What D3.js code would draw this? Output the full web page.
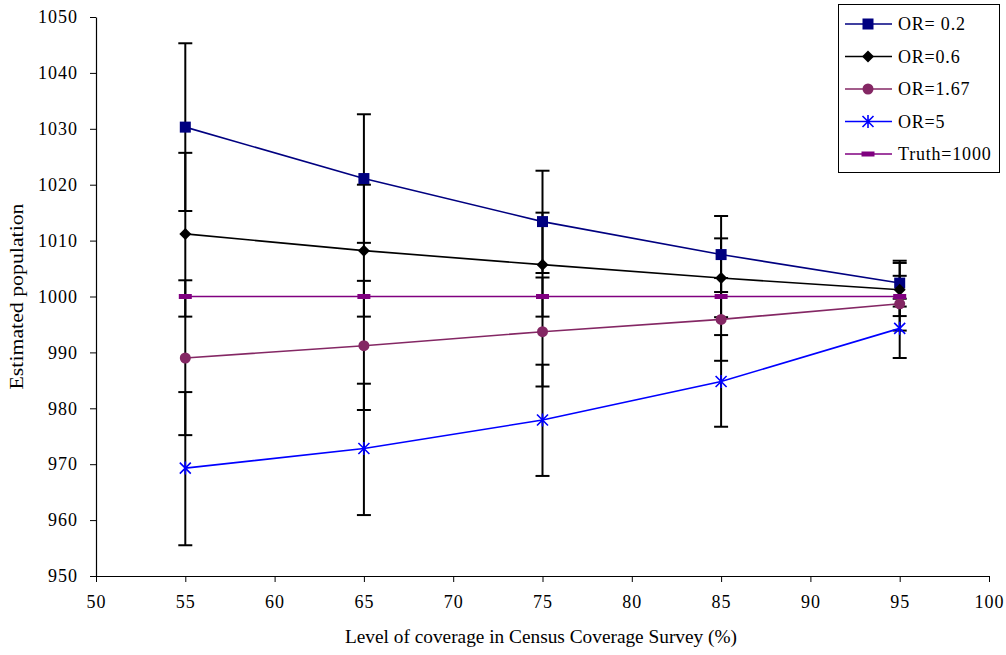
<!DOCTYPE html>
<html>
<head>
<meta charset="utf-8">
<script src="https://cdn.jsdelivr.net/npm/d3@7"></script>
<style>
  html, body { margin: 0; padding: 0; background: #fff; }
  svg { display: block; }
  svg text { font-family: "Liberation Serif", "Times New Roman", serif; fill: #000; }
</style>
</head>
<body>
<svg id="chart" width="1006" height="655"></svg>
<script>
// Coverage levels (%) on the x axis
const coverage = [55, 65, 75, 85, 95];

// Mean estimated population per odds-ratio scenario
const or02   = [1030.3, 1021.1, 1013.4, 1007.5, 1002.4];
const or06   = [1011.2, 1008.2, 1005.7, 1003.3, 1001.2];
const or167  = [989.0, 991.2, 993.7, 995.9, 998.7];
const or5    = [969.3, 972.8, 977.9, 984.8, 994.3];
const truth  = [1000, 1000, 1000, 1000, 1000];

// Interval bounds around each mean
const or02Low   = [1015.3, 1009.6, 1004.2, 1000.8, 998.2];
const or02High  = [1045.3, 1032.6, 1022.5, 1014.4, 1006.4];
const or06Low   = [996.4, 996.4, 996.4, 996.3, 996.5];
const or06High  = [1025.7, 1020.0, 1015.0, 1010.4, 1006.0];
const or167Low  = [975.2, 979.7, 983.9, 988.5, 993.9];
const or167High = [1002.9, 1002.8, 1003.4, 1003.3, 1003.7];
const or5Low    = [955.5, 960.9, 967.9, 976.7, 989.0];
const or5High   = [982.9, 984.4, 987.8, 993.1, 999.6];

// Axis ticks
const xTicks = [50, 55, 60, 65, 70, 75, 80, 85, 90, 95, 100];
const yTicks = [950, 960, 970, 980, 990, 1000, 1010, 1020, 1030, 1040, 1050];

const series = [
  { name: "OR= 0.2",    values: or02,  low: or02Low,  high: or02High,  color: "#000080", marker: "square" },
  { name: "OR=0.6",     values: or06,  low: or06Low,  high: or06High,  color: "#000000", marker: "diamond" },
  { name: "OR=1.67",    values: or167, low: or167Low, high: or167High, color: "#842764", marker: "circle" },
  { name: "OR=5",       values: or5,   low: or5Low,   high: or5High,   color: "#0000FF", marker: "star" },
  { name: "Truth=1000", values: truth, low: null,     high: null,      color: "#800080", marker: "dash" }
];

const svg = d3.select("#chart");
const plotLeft = 96, plotRight = 989, plotTop = 17, plotBottom = 576;
const serif = "'Liberation Serif', 'Times New Roman', serif";

const x = d3.scaleLinear().domain([50, 100]).range([plotLeft, plotRight]);
const y = d3.scaleLinear().domain([950, 1050]).range([plotBottom, plotTop]);

// Axes
const xAxis = svg.append("g")
  .attr("transform", `translate(0,${plotBottom})`)
  .call(d3.axisBottom(x).tickValues(xTicks).tickFormat(d3.format("d"))
    .tickSize(6).tickPadding(13).tickSizeOuter(0));
const yAxis = svg.append("g")
  .attr("transform", `translate(${plotLeft},0)`)
  .call(d3.axisLeft(y).tickValues(yTicks).tickFormat(d3.format("d"))
    .tickSize(6).tickPadding(12).tickSizeOuter(0));

[xAxis, yAxis].forEach(g => {
  g.attr("font-family", serif);
  g.select(".domain").attr("stroke", "#000").attr("stroke-width", 1.2);
  g.selectAll(".tick line").attr("stroke", "#000").attr("stroke-width", 1);
  g.selectAll(".tick text")
    .attr("fill", "#000")
    .style("font-size", "18px")
    .style("letter-spacing", "1px");
});

// Axis titles
svg.append("text")
  .attr("x", 541)
  .attr("y", 643)
  .attr("text-anchor", "middle")
  .attr("textLength", 392)
  .attr("lengthAdjust", "spacingAndGlyphs")
  .style("font-size", "18px")
  .text("Level of coverage in Census Coverage Survey (%)");

svg.append("text")
  .attr("transform", `translate(23,${(plotTop + plotBottom) / 2}) rotate(-90)`)
  .attr("text-anchor", "middle")
  .attr("textLength", 186)
  .attr("lengthAdjust", "spacingAndGlyphs")
  .style("font-size", "18px")
  .text("Estimated population");

// Interval bars
const capHalf = 7;
const bars = svg.append("g").attr("stroke", "#000").attr("stroke-width", 2);
series.filter(s => s.low).forEach(s => {
  coverage.forEach((c, i) => {
    const cx = x(c);
    bars.append("line").attr("x1", cx).attr("x2", cx).attr("y1", y(s.low[i])).attr("y2", y(s.high[i]));
    bars.append("line").attr("x1", cx - capHalf).attr("x2", cx + capHalf).attr("y1", y(s.low[i])).attr("y2", y(s.low[i]));
    bars.append("line").attr("x1", cx - capHalf).attr("x2", cx + capHalf).attr("y1", y(s.high[i])).attr("y2", y(s.high[i]));
  });
});

// Series lines
const line = d3.line().x((d, i) => x(coverage[i])).y(d => y(d));
series.forEach(s => {
  svg.append("path")
    .datum(s.values)
    .attr("fill", "none")
    .attr("stroke", s.color)
    .attr("stroke-width", 1.6)
    .attr("d", line);
});

// Marker drawing
function drawMarker(g, type, cx, cy, color) {
  if (type === "square") {
    g.append("rect").attr("x", cx - 5.5).attr("y", cy - 5.5).attr("width", 11).attr("height", 11).attr("fill", color);
  } else if (type === "diamond") {
    g.append("path").attr("d", `M${cx},${cy - 6}L${cx + 6},${cy}L${cx},${cy + 6}L${cx - 6},${cy}Z`).attr("fill", color);
  } else if (type === "circle") {
    g.append("circle").attr("cx", cx).attr("cy", cy).attr("r", 5.5).attr("fill", color);
  } else if (type === "star") {
    const r = 5.5;
    g.append("path")
      .attr("d", `M${cx - r},${cy - r}L${cx + r},${cy + r}M${cx - r},${cy + r}L${cx + r},${cy - r}M${cx},${cy - r - 1}L${cx},${cy + r + 1}`)
      .attr("stroke", color).attr("stroke-width", 1.6).attr("fill", "none");
  } else if (type === "dash") {
    g.append("rect").attr("x", cx - 6.5).attr("y", cy - 2.5).attr("width", 13).attr("height", 5).attr("fill", color);
  }
}

const markers = svg.append("g");
series.forEach(s => {
  s.values.forEach((v, i) => drawMarker(markers, s.marker, x(coverage[i]), y(v), s.color));
});

// Legend
const legend = svg.append("g");
legend.append("rect")
  .attr("x", 838.5).attr("y", 4.5).attr("width", 161).attr("height", 168)
  .attr("fill", "#fff").attr("stroke", "#000").attr("stroke-width", 1);
series.forEach((s, i) => {
  const ly = 24 + i * 32.5;
  legend.append("line").attr("x1", 845).attr("x2", 892).attr("y1", ly).attr("y2", ly)
    .attr("stroke", s.color).attr("stroke-width", 1.6);
  drawMarker(legend, s.marker, 868, ly, s.color);
  legend.append("text").attr("x", 898).attr("y", ly + 6)
    .style("font-size", "18px")
    .style("letter-spacing", "0.8px")
    .text(s.name);
});
</script>
</body>
</html>
